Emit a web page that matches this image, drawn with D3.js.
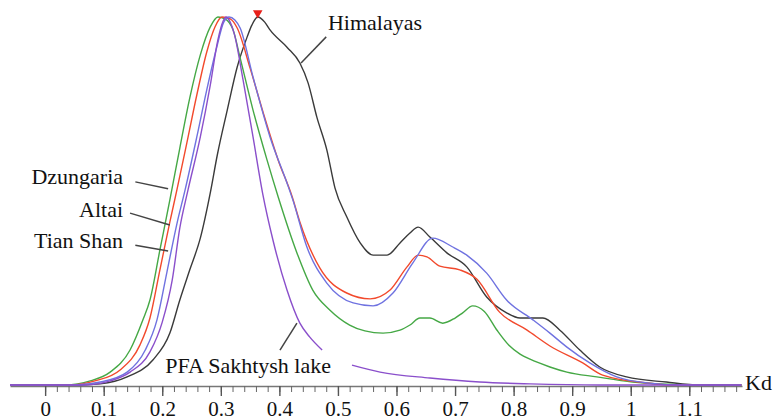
<!DOCTYPE html>
<html>
<head>
<meta charset="utf-8">
<script src="https://cdn.jsdelivr.net/npm/d3@7"></script>
<style>
  body { margin: 0; background: #fff; }
</style>
</head>
<body>
<script>
// density curves, [Kd, normalised value]
const dzungaria = [[-0.06,0],[0.034,0],[0.077,0.011],[0.111,0.035],[0.145,0.095],[0.167,0.177],[0.179,0.231],[0.196,0.367],[0.213,0.503],[0.230,0.644],[0.247,0.780],[0.265,0.897],[0.282,0.973],[0.295,1.0],[0.307,0.995],[0.321,0.965],[0.333,0.889],[0.355,0.747],[0.379,0.611],[0.398,0.511],[0.430,0.359],[0.457,0.258],[0.486,0.204],[0.520,0.163],[0.546,0.147],[0.577,0.141],[0.606,0.149],[0.623,0.163],[0.640,0.182],[0.657,0.182],[0.679,0.168],[0.700,0.182],[0.713,0.196],[0.730,0.215],[0.750,0.200],[0.772,0.148],[0.792,0.108],[0.811,0.084],[0.828,0.070],[0.862,0.049],[0.891,0.035],[0.942,0.022],[1.003,0.008],[1.096,0],[1.189,0]];
const altai = [[-0.06,0],[0.043,0],[0.085,0.011],[0.128,0.041],[0.162,0.109],[0.179,0.182],[0.196,0.313],[0.213,0.443],[0.225,0.530],[0.242,0.658],[0.259,0.788],[0.276,0.905],[0.290,0.973],[0.302,1.0],[0.316,0.995],[0.328,0.970],[0.350,0.861],[0.372,0.742],[0.398,0.611],[0.422,0.511],[0.435,0.443],[0.469,0.318],[0.515,0.250],[0.555,0.234],[0.589,0.258],[0.618,0.321],[0.637,0.353],[0.652,0.348],[0.674,0.323],[0.708,0.313],[0.737,0.288],[0.776,0.198],[0.823,0.149],[0.862,0.106],[0.918,0.060],[0.952,0.027],[1.032,0.005],[1.072,0],[1.189,0]];
const tianShan = [[-0.06,0],[0.051,0],[0.094,0.008],[0.140,0.035],[0.171,0.095],[0.191,0.177],[0.208,0.307],[0.225,0.438],[0.239,0.530],[0.259,0.674],[0.276,0.802],[0.294,0.924],[0.305,0.986],[0.314,1.0],[0.324,0.992],[0.333,0.970],[0.355,0.837],[0.384,0.674],[0.413,0.549],[0.423,0.503],[0.447,0.375],[0.481,0.277],[0.526,0.223],[0.560,0.215],[0.594,0.250],[0.628,0.332],[0.662,0.399],[0.696,0.375],[0.720,0.353],[0.754,0.304],[0.788,0.231],[0.833,0.177],[0.862,0.141],[0.891,0.103],[0.930,0.060],[0.976,0.022],[1.032,0.005],[1.089,0],[1.189,0]];
const pfaSakhtysh = [[-0.06,0],[0.068,0],[0.111,0.011],[0.145,0.035],[0.179,0.090],[0.200,0.171],[0.217,0.285],[0.230,0.427],[0.244,0.530],[0.265,0.674],[0.282,0.815],[0.295,0.938],[0.304,0.989],[0.309,1.0],[0.316,0.986],[0.323,0.954],[0.338,0.829],[0.355,0.674],[0.372,0.516],[0.389,0.394],[0.413,0.258],[0.435,0.168],[0.452,0.130],[0.473,0.095],[0.49,null],[0.524,0.054],[0.572,0.035],[0.657,0.019],[0.742,0.008],[0.828,0.003],[0.947,0],[1.189,0]];
const himalayas = [[-0.06,0],[0.060,0],[0.094,0.003],[0.140,0.022],[0.184,0.068],[0.213,0.141],[0.230,0.231],[0.247,0.313],[0.265,0.399],[0.282,0.522],[0.294,0.625],[0.311,0.747],[0.328,0.864],[0.345,0.946],[0.353,0.978],[0.363,1.0],[0.375,0.986],[0.384,0.965],[0.413,0.918],[0.435,0.875],[0.449,0.821],[0.464,0.728],[0.481,0.639],[0.495,0.535],[0.515,0.457],[0.538,0.386],[0.560,0.353],[0.584,0.353],[0.606,0.386],[0.623,0.413],[0.637,0.429],[0.657,0.402],[0.686,0.359],[0.720,0.321],[0.754,0.239],[0.788,0.196],[0.811,0.182],[0.850,0.182],[0.879,0.149],[0.913,0.095],[0.947,0.049],[0.993,0.022],[1.061,0.008],[1.118,0],[1.189,0]];

const majorTicks = [0, 0.1, 0.2, 0.3, 0.4, 0.5, 0.6, 0.7, 0.8, 0.9, 1, 1.1];
const minorTicks = d3.range(0, 119, 2).map(d => d / 100);

// label text, anchor point and leader line, all in data units
const labels = [
  {text: "Dzungaria", anchor: "end", at: [0.133, 0.546], from: [0.154, 0.552], to: [0.210, 0.533]},
  {text: "Altai", anchor: "end", at: [0.133, 0.457], from: [0.145, 0.467], to: [0.213, 0.435]},
  {text: "Tian Shan", anchor: "end", at: [0.133, 0.372], from: [0.154, 0.380], to: [0.210, 0.364]},
  {text: "Himalayas", anchor: "start", at: [0.483, 0.965], from: [0.480, 0.946], to: [0.437, 0.875]},
  {text: "PFA Sakhtysh lake", anchor: "start", at: [0.205, 0.033], from: [0.401, 0.095], to: [0.430, 0.168]}
];

const width = 775;
const height = 420;
const serif = "Liberation Serif";

const series = [
  {name: "Himalayas", data: himalayas, color: "#3a3a3a"},
  {name: "Dzungaria", data: dzungaria, color: "#45a845"},
  {name: "Altai", data: altai, color: "#f2492c"},
  {name: "Tian Shan", data: tianShan, color: "#6f72e0"},
  {name: "PFA Sakhtysh lake", data: pfaSakhtysh, color: "#8a4fcb"}
];

const x = d3.scaleLinear().domain([-0.06, 1.19]).range([10, 742]);
const y = d3.scaleLinear().domain([0, 1]).range([385, 17]);

const svg = d3.select("body")
    .append("svg")
    .attr("width", width)
    .attr("height", height);

// axis: minor ticks, then labelled major ticks
svg.append("g")
    .attr("transform", `translate(0,${y(0) + 1})`)
    .call(d3.axisBottom(x).tickValues(minorTicks).tickSize(6).tickSizeOuter(0).tickFormat(""))
    .call(g => g.selectAll("line").attr("stroke", "#666").attr("stroke-width", 1))
    .call(g => g.select(".domain").attr("stroke", "#777").attr("stroke-width", 1.6));

svg.append("g")
    .attr("transform", `translate(0,${y(0) + 1})`)
    .call(d3.axisBottom(x).tickValues(majorTicks).tickSize(10).tickSizeOuter(0).tickPadding(5).tickFormat(d3.format("~g")))
    .call(g => g.select(".domain").remove())
    .call(g => g.selectAll("line").attr("stroke", "#555").attr("stroke-width", 1.4))
    .call(g => g.selectAll("text")
        .attr("fill", "#111")
        .style("font-family", serif)
        .style("font-size", "21px"));

svg.append("text")
    .attr("x", x(1.19) + 3)
    .attr("y", y(0) + 5)
    .style("font-family", serif)
    .style("font-size", "22px")
    .attr("fill", "#111")
    .text("Kd");

const line = d3.line()
    .defined(d => d[1] !== null)
    .x(d => x(d[0]))
    .y(d => y(d[1]))
    .curve(d3.curveMonotoneX);

svg.selectAll("path.curve")
    .data(series)
    .enter()
    .append("path")
    .attr("class", "curve")
    .attr("fill", "none")
    .attr("stroke", d => d.color)
    .attr("stroke-width", 1.4)
    .attr("d", d => line(d.data));

// red marker on top of the Himalayas peak
const peak = himalayas.reduce((a, b) => (b[1] > a[1] ? b : a));
svg.append("path")
    .attr("d", d3.symbol(d3.symbolTriangle, 40)())
    .attr("transform", `translate(${x(peak[0])},${y(peak[1]) - 4}) rotate(180)`)
    .attr("fill", "#e8201a");

// labels with leader lines
svg.selectAll("line.leader")
    .data(labels)
    .enter()
    .append("line")
    .attr("class", "leader")
    .attr("x1", d => x(d.from[0]))
    .attr("y1", d => y(d.from[1]))
    .attr("x2", d => x(d.to[0]))
    .attr("y2", d => y(d.to[1]))
    .attr("stroke", "#444")
    .attr("stroke-width", 1.5);

svg.selectAll("text.label")
    .data(labels)
    .enter()
    .append("text")
    .attr("class", "label")
    .attr("x", d => x(d.at[0]))
    .attr("y", d => y(d.at[1]))
    .attr("text-anchor", d => d.anchor)
    .style("font-family", serif)
    .style("font-size", "22px")
    .attr("fill", "#111")
    .text(d => d.text);
</script>
</body>
</html>
